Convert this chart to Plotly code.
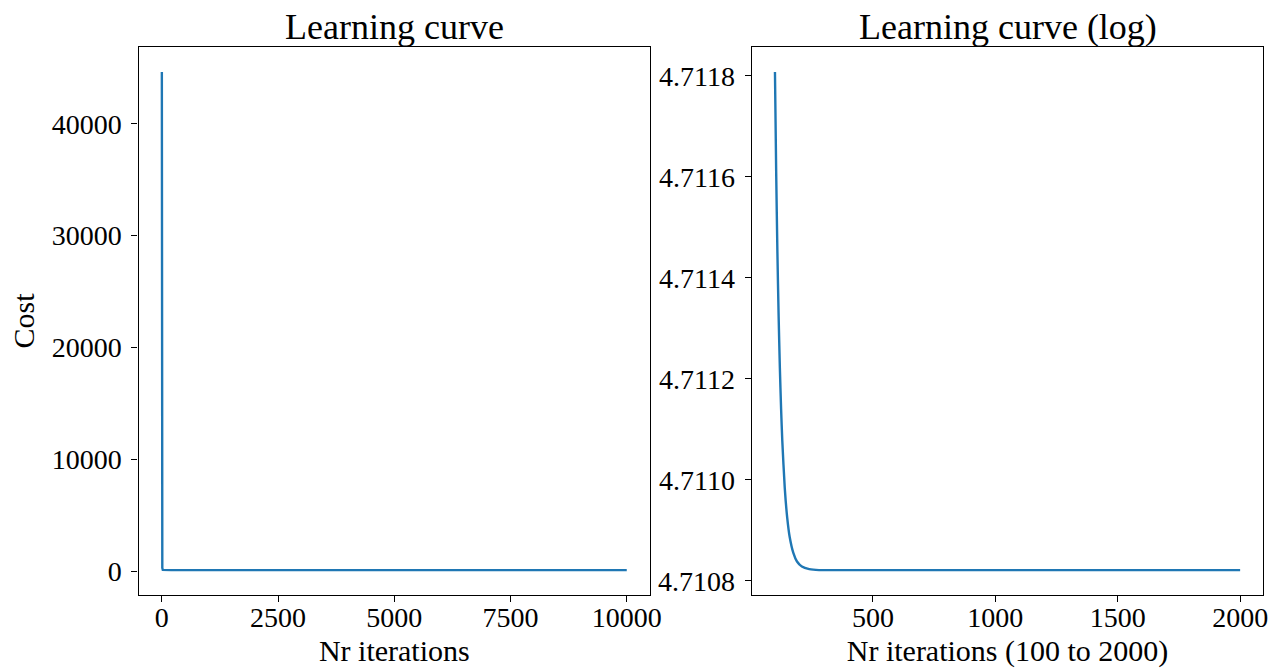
import plotly.graph_objects as go

# ---- data ----
iters_full = [0, 3, 6, 10, 20, 50, 100, 200, 500, 1000, 2500, 5000, 7500, 9999]
cost_full = [44630, 9000, 1500, 300, 125, 112, 111.25, 111.17, 111.16, 111.16,
             111.16, 111.16, 111.16, 111.16]

iters_log = [100, 105, 110, 115, 120, 125, 130, 140, 150, 160, 175, 190, 210,
             240, 280, 350, 500, 1000, 1500, 2000]
log_cost = [4.711808, 4.711609, 4.711450, 4.711324, 4.711222, 4.711141,
            4.711077, 4.710984, 4.710925, 4.710887, 4.710855, 4.710838,
            4.710828, 4.710823, 4.710821, 4.710821, 4.710821, 4.710821,
            4.710821, 4.710821]

left_yticks = [0, 10000, 20000, 30000, 40000]
left_xticks = [0, 2500, 5000, 7500, 10000]
right_yticks = [4.7108, 4.7110, 4.7112, 4.7114, 4.7116, 4.7118]
right_xticks = [500, 1000, 1500, 2000]

titles = ["Learning curve", "Learning curve (log)"]
xlabels = ["Nr iterations", "Nr iterations (100 to 2000)"]
ylabel = "Cost"


def padded(vals, frac=0.05):
    lo, hi = min(vals), max(vals)
    d = (hi - lo) * frac
    return [lo - d, hi + d]


FONT = "Liberation Serif, Times New Roman, serif"
W, H = 1276, 670
BLUE = "#1f77b4"

fig = go.Figure()
fig.add_trace(go.Scatter(x=iters_full, y=cost_full, mode="lines",
                         line=dict(color=BLUE, width=2.4),
                         xaxis="x", yaxis="y", showlegend=False))
fig.add_trace(go.Scatter(x=iters_log, y=log_cost, mode="lines",
                         line=dict(color=BLUE, width=2.4, shape="spline", smoothing=0.6),
                         xaxis="x2", yaxis="y2", showlegend=False))

ax_common = dict(showgrid=False, zeroline=False, showline=True, mirror=True,
                 automargin=False,
                 linecolor="black", linewidth=1.3, ticks="outside", ticklen=6,
                 tickwidth=1.3, tickcolor="black",
                 tickfont=dict(family=FONT, size=28, color="black"))

ydom = [(H - 595) / H, (H - 47) / H]
xdom1 = [138.6 / W, 650 / W]
xdom2 = [751.7 / W, 1263.4 / W]
fig.update_layout(
    width=W, height=H, margin=dict(l=0, r=0, t=0, b=0, pad=0, autoexpand=False),
    paper_bgcolor="white", plot_bgcolor="white",
    font=dict(family=FONT, color="black"),
    xaxis=dict(domain=xdom1, range=padded(iters_full),
               tickvals=left_xticks, ticktext=[str(v) for v in left_xticks],
               ticklabelstandoff=-9,
               title=dict(text=xlabels[0], font=dict(family=FONT, size=30), standoff=8),
               anchor="y", **ax_common),
    yaxis=dict(domain=ydom, range=padded(cost_full),
               tickvals=left_yticks, ticktext=[str(v) for v in left_yticks],
               ticklabelstandoff=4,
               title=dict(text=ylabel, font=dict(family=FONT, size=30), standoff=8),
               anchor="x", **ax_common),
    xaxis2=dict(domain=xdom2, range=padded(iters_log),
                tickvals=right_xticks, ticktext=[str(v) for v in right_xticks],
                ticklabelstandoff=-9,
                title=dict(text=xlabels[1], font=dict(family=FONT, size=30), standoff=8),
                anchor="y2", **ax_common),
    yaxis2=dict(domain=ydom, range=padded(log_cost),
                tickvals=right_yticks, ticktext=[f"{v:.4f}" for v in right_yticks],
                ticklabelstandoff=4,
                anchor="x2", **ax_common),
)

for t, dom in zip(titles, [xdom1, xdom2]):
    fig.add_annotation(text=t, x=(dom[0] + dom[1]) / 2, y=ydom[1], xref="paper", yref="paper",
                       xanchor="center", yanchor="bottom", yshift=-2, showarrow=False,
                       font=dict(family=FONT, size=36, color="black"))

fig.write_html(
    "out.html",
    config={"displayModeBar": False},
    post_script=("document.documentElement.style.margin='0';"
                 "document.documentElement.style.overflow='hidden';"
                 "document.body.style.margin='0';"
                 "document.body.style.overflow='hidden';"),
)
